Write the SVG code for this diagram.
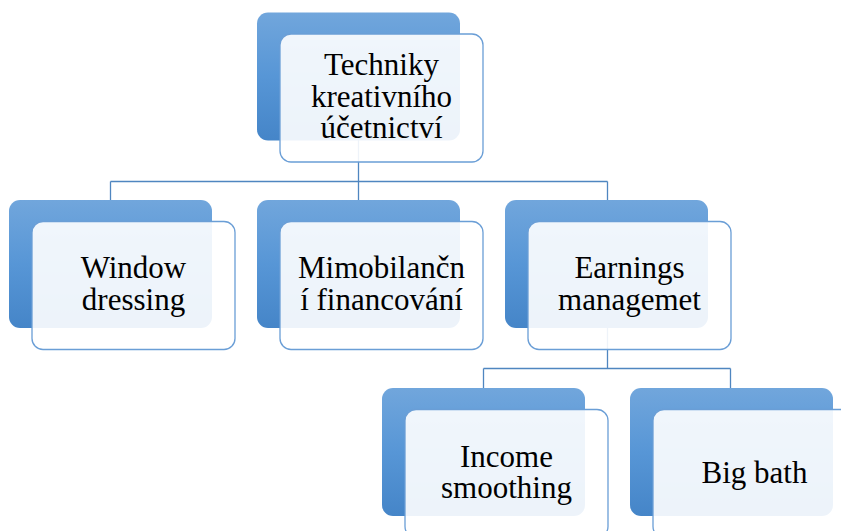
<svg xmlns="http://www.w3.org/2000/svg" width="841" height="531" viewBox="0 0 841 531">
<defs>
<linearGradient id="g" x1="0" y1="0" x2="0" y2="1">
<stop offset="0" stop-color="#71A6DC"/>
<stop offset="0.5" stop-color="#5796D6"/>
<stop offset="1" stop-color="#4585C8"/>
</linearGradient>
<style>
.back{fill:url(#g);}
.front{fill:#ffffff;fill-opacity:0.9;stroke:#6A9ED6;stroke-width:1.3;}
.conn{fill:none;stroke:#4F86C0;stroke-width:1.3;}
</style>
</defs>
<rect width="841" height="531" fill="#ffffff"/>
<g id="connectors">
<path class="conn" d="M358.5,140 V181.5 M110.5,181.5 H607.5 M110.5,181.5 V200 M358.5,181.5 V200 M607.5,181.5 V200"/>
<path class="conn" d="M607.5,328 V368.5 M483.5,368.5 H730.5 M483.5,368.5 V388 M730.5,368.5 V388"/>
</g>
<g font-family="'Liberation Serif', serif" font-size="31" fill="#000000" text-anchor="middle">
<g id="node-top">
<rect class="back" x="257" y="12.5" width="203" height="128" rx="11"/>
<rect class="front" x="280" y="34" width="203" height="128" rx="11"/>
<text x="381.5" y="75">Techniky</text>
<text x="381.5" y="107">kreativního</text>
<text x="381.5" y="138">účetnictví</text>
</g>
<g id="node-window">
<rect class="back" x="9" y="200" width="203" height="128" rx="11"/>
<rect class="front" x="32" y="221.5" width="203" height="128" rx="11"/>
<text x="133.5" y="278">Window</text>
<text x="133.5" y="310">dressing</text>
</g>
<g id="node-mimo">
<rect class="back" x="257" y="200" width="203" height="128" rx="11"/>
<rect class="front" x="280" y="221.5" width="203" height="128" rx="11"/>
<text x="381.5" y="278">Mimobilančn</text>
<text x="381.5" y="310">í financování</text>
</g>
<g id="node-earnings">
<rect class="back" x="505" y="200" width="203" height="128" rx="11"/>
<rect class="front" x="528" y="221.5" width="203" height="128" rx="11"/>
<text x="629.5" y="278">Earnings</text>
<text x="629.5" y="310">managemet</text>
</g>
<g id="node-income">
<rect class="back" x="382" y="388" width="203" height="128" rx="11"/>
<rect class="front" x="405" y="409.5" width="203" height="128" rx="11"/>
<text x="506.5" y="467">Income</text>
<text x="506.5" y="498">smoothing</text>
</g>
<g id="node-bigbath">
<rect class="back" x="630" y="388" width="203" height="128" rx="11"/>
<rect class="front" x="653" y="409.5" width="203" height="128" rx="11"/>
<text x="754.5" y="483">Big bath</text>
</g>
</g>
</svg>
